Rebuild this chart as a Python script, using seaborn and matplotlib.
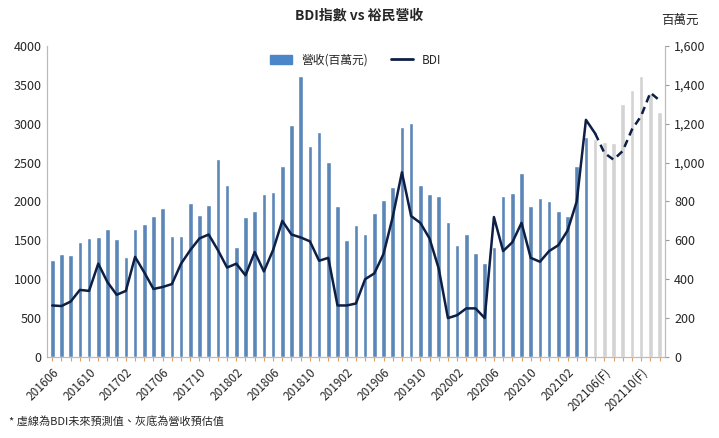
import matplotlib.pyplot as plt
from matplotlib.patches import Patch
from matplotlib.lines import Line2D
from matplotlib.ticker import FuncFormatter
import pandas as pd
import numpy as np
import seaborn as sns

sns.set_style('white')
plt.rcParams['font.family'] = ['Noto Sans CJK TC', 'DejaVu Sans']

months = pd.period_range('2016-06', '2021-12', freq='M').strftime('%Y%m').tolist()
n_actual = 59  # 201606-202104 actual revenue, rest forecast

revenue = [1250, 1330, 1310, 1480, 1530, 1540, 1650,
           1520, 1290, 1650, 1710, 1810, 1910, 1550, 1550, 1980, 1820, 1950, 2550,
           2210, 1420, 1800, 1880, 2100, 2120, 2450, 2990, 3610, 2720, 2890, 2510,
           1940, 1510, 1700, 1580, 1850, 2020, 2190, 2960, 3010, 2210, 2100, 2070,
           1730, 1440, 1580, 1340, 1210, 1420, 2070, 2110, 2370, 1940, 2040, 2010,
           1880, 1810, 2450, 2830,
           2800, 2760, 2750, 3260, 3440, 3620, 3400, 3150]

bdi = [265, 262, 285, 345, 340, 480, 385,
       320, 340, 515, 435, 350, 360, 375, 480, 550, 610, 630, 550,
       460, 480, 420, 540, 440, 550, 700, 630, 615, 595, 495, 510,
       265, 265, 275, 400, 430, 530, 720, 950, 725, 690, 610, 455,
       200, 215, 250, 250, 200, 720, 545, 590, 690, 510, 490, 545,
       575, 650, 800, 1220,
       1150, 1050, 1015, 1060, 1170, 1240, 1360, 1320]

tick_labels = [m + ('(F)' if i >= 60 else '') if i % 4 == 0 else '' for i, m in enumerate(months)]

df = pd.DataFrame({'month': months, 'rev': revenue, 'bdi': bdi,
                   'kind': ['actual'] * n_actual + ['forecast'] * (len(months) - n_actual)})
df['idx'] = np.arange(len(df))

blue = '#4a86c8'
grey = '#d3d3d3'
navy = '#0d1f45'

fig, ax = plt.subplots(figsize=(7.19, 4.38), dpi=100)
fig.subplots_adjust(left=0.065, right=0.925, top=0.895, bottom=0.185)

sns.barplot(data=df, x='month', y='rev', hue='kind', palette={'actual': blue, 'forecast': grey},
            dodge=False, width=0.5, legend=False, ax=ax)
ax.set_ylim(0, 4000)
ax.set_yticks(np.arange(0, 4001, 500))
ax.set_xlim(-0.6, len(months) - 0.4)
ax.set_xticks(df['idx'])
ax.set_xticklabels(tick_labels, rotation=45, ha='right', rotation_mode='anchor', fontsize=8.5)
ax.tick_params(axis='x', length=3, color='#e0a060', bottom=True)
ax.tick_params(axis='y', labelsize=9, length=0)
ax.set_xlabel('')
ax.set_ylabel('')

ax2 = ax.twinx()
solid = df.iloc[:n_actual + 1]
dashed = df.iloc[n_actual:]
sns.lineplot(data=solid, x='idx', y='bdi', color=navy, lw=1.8, ax=ax2)
sns.lineplot(data=dashed, x='idx', y='bdi', color=navy, lw=1.8, ls=(0, (3, 2)), ax=ax2)
ax2.set_ylim(0, 1600)
ax2.set_yticks(np.arange(0, 1601, 200))
ax2.yaxis.set_major_formatter(FuncFormatter(lambda v, p: f'{int(v):,}'))
ax2.tick_params(axis='y', labelsize=9, length=3, color='#999999')
ax2.set_ylabel('')
ax2.set_xlabel('')

for a in (ax, ax2):
    a.spines['top'].set_visible(False)
    a.spines['left'].set_color('#bbbbbb')
    a.spines['right'].set_color('#bbbbbb')
    a.spines['bottom'].set_color('#bbbbbb')

fig.text(0.5, 0.955, 'BDI指數 vs 裕民營收', ha='center', fontsize=10, fontweight='bold')
fig.text(0.945, 0.945, '百萬元', ha='center', fontsize=9)
fig.text(0.012, 0.03, '* 虛線為BDI未來預測值、灰底為營收預估值', fontsize=8)

handles = [Patch(color=blue, label='營收(百萬元)'), Line2D([0], [0], color=navy, lw=2, label='BDI')]
ax.legend(handles=handles, loc='upper center', bbox_to_anchor=(0.5, 1.01), ncol=2,
          frameon=False, fontsize=8.5, handlelength=1.8)

fig.savefig('out.png', dpi=100)
